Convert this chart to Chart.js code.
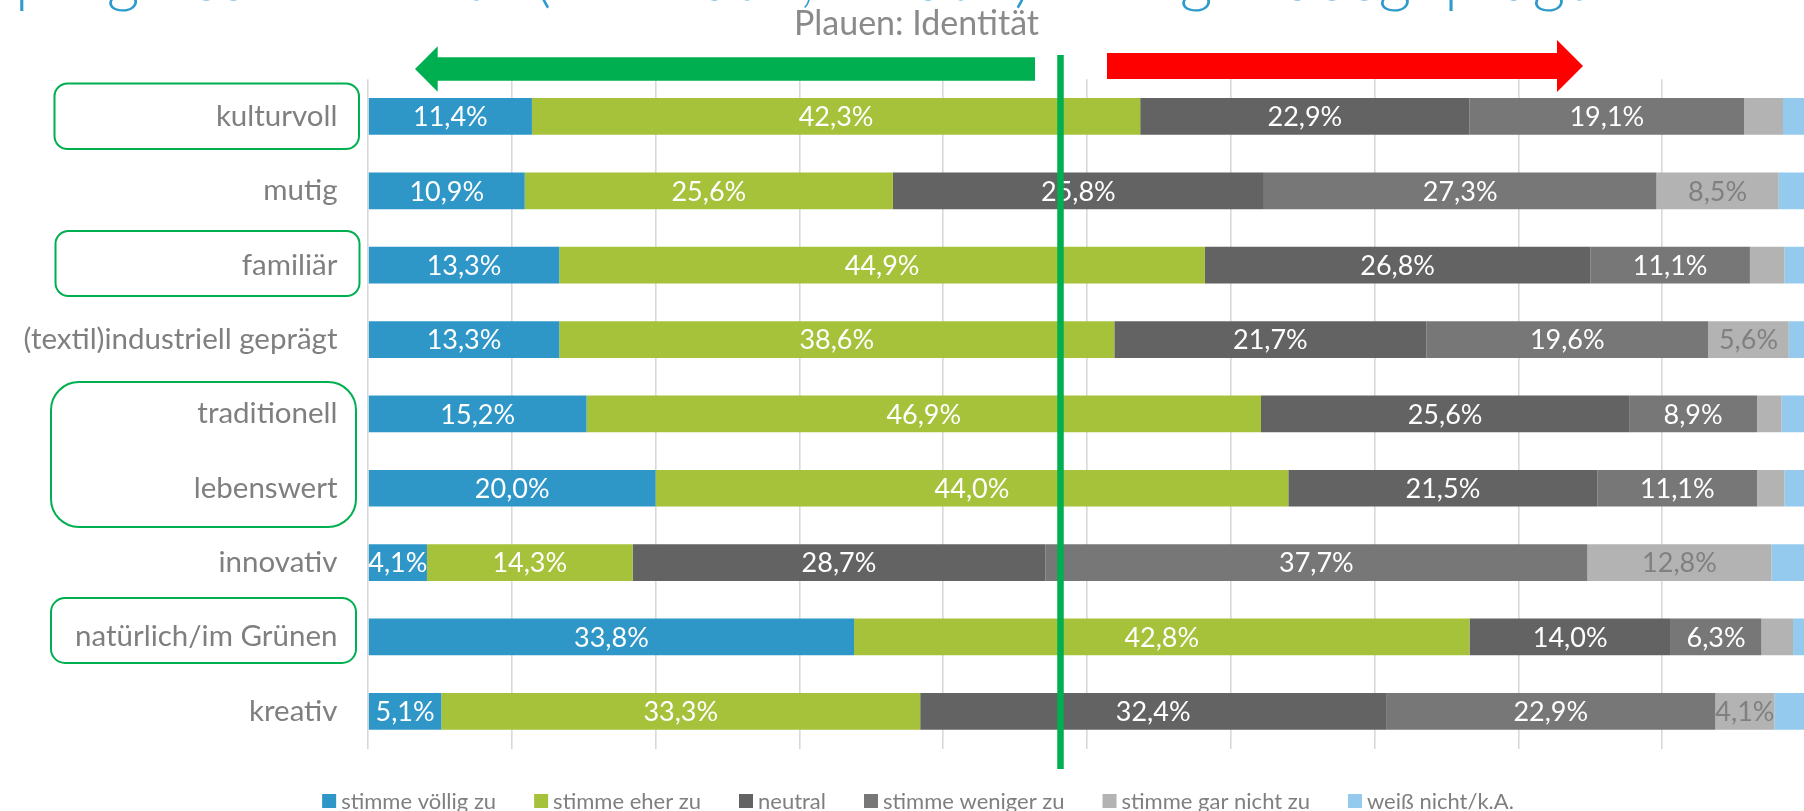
<!DOCTYPE html>
<html>
<head>
<meta charset="utf-8">
<script src="https://cdn.jsdelivr.net/npm/chart.js@4.4.1/dist/chart.umd.min.js"></script>
<style>
  html, body { margin: 0; padding: 0; overflow: hidden; background: #ffffff; }
  #wrap { position: relative; width: 1812px; height: 811px; }
</style>
</head>
<body>
<div id="wrap"><canvas id="chart"></canvas></div>
<script>
// ---------- data ----------
const categories = ['kulturvoll', 'mutig', 'familiär', '(textil)industriell geprägt', 'traditionell', 'lebenswert', 'innovativ', 'natürlich/im Grünen', 'kreativ'];
const seriesNames = ['stimme völlig zu', 'stimme eher zu', 'neutral', 'stimme weniger zu', 'stimme gar nicht zu', 'weiß nicht/k.A.'];
const voelligZu  = [11.4, 10.9, 13.3, 13.3, 15.2, 20.0,  4.1, 33.8,  5.1];
const eherZu     = [42.3, 25.6, 44.9, 38.6, 46.9, 44.0, 14.3, 42.8, 33.3];
const neutral    = [22.9, 25.8, 26.8, 21.7, 25.6, 21.5, 28.7, 14.0, 32.4];
const wenigerZu  = [19.1, 27.3, 11.1, 19.6,  8.9, 11.1, 37.7,  6.3, 22.9];
const garNichtZu = [ 2.7,  8.5,  2.4,  5.6,  1.7,  1.9, 12.8,  2.2,  4.1];
const weissNicht = [ 1.6,  1.9,  1.5,  1.2,  1.7,  1.5,  2.4,  0.9,  2.2];
const xTickValues = [0, 10, 20, 30, 40, 50, 60, 70, 80, 90, 100];
const titleText = 'progressive Werte (innovativ, kreativ) weniger ausgeprägt';
const subtitleText = 'Plauen: Identität';

// ---------- styles ----------
const seriesColors = ['#2f97c7', '#a6c13a', '#636363', '#777777', '#b3b3b3', '#93caed'];
const labelColors = ['#ffffff', '#ffffff', '#ffffff', '#ffffff', '#808080', '#808080'];
const FONT = 'Lato, "Open Sans", sans-serif';

const annot = {
  divider: { x: 1060.5, top: 55, bottom: 769, width: 6.5, color: '#00b050' },
  arrows: [
    { from: 1035, to: 415, y: 69, shaft: 23.4, head: 45.7, headLen: 22.7, color: '#00b050' },
    { from: 1107, to: 1583, y: 66, shaft: 26, head: 52, headLen: 26, color: '#ff0000' }
  ],
  boxes: [
    { x: 54.5, y: 83.5, w: 304.5, h: 65.5, r: 13 },
    { x: 55.5, y: 231, w: 304, h: 65, r: 13 },
    { x: 51, y: 382, w: 305, h: 145, r: 28 },
    { x: 51, y: 598, w: 305, h: 65, r: 14 }
  ],
  boxColor: '#00b050',
  legend: { center: 918, y: 801, box: 14, gap: 5, spacing: 38, font: '22px ' + FONT, color: '#7f7f7f' }
};

const seriesValues = [voelligZu, eherZu, neutral, wenigerZu, garNichtZu, weissNicht];
const datasets = seriesNames.map((name, i) => ({
  label: name,
  data: seriesValues[i],
  backgroundColor: seriesColors[i],
  borderWidth: 0,
  barPercentage: 0.494,
  categoryPercentage: 1.0
}));

const fmt = v => v.toFixed(1).replace('.', ',') + '%';

const labelPlugin = {
  id: 'segLabels',
  afterDatasetsDraw(chart) {
    const ctx = chart.ctx;
    ctx.save();
    ctx.font = '27px ' + FONT;
    ctx.textAlign = 'center';
    ctx.textBaseline = 'middle';
    chart.data.datasets.forEach((ds, di) => {
      if (di >= 5) return;
      const meta = chart.getDatasetMeta(di);
      meta.data.forEach((el, i) => {
        const v = ds.data[i];
        if (v < 4) return;
        const p = el.getCenterPoint();
        ctx.fillStyle = labelColors[di];
        ctx.fillText(fmt(v), p.x, p.y + 1);
      });
    });
    ctx.restore();
  }
};

function drawArrow(ctx, a) {
  const dir = a.to > a.from ? 1 : -1;
  const baseX = a.to - dir * a.headLen;
  ctx.beginPath();
  ctx.moveTo(a.from, a.y - a.shaft / 2);
  ctx.lineTo(baseX, a.y - a.shaft / 2);
  ctx.lineTo(baseX, a.y - a.head / 2);
  ctx.lineTo(a.to, a.y);
  ctx.lineTo(baseX, a.y + a.head / 2);
  ctx.lineTo(baseX, a.y + a.shaft / 2);
  ctx.lineTo(a.from, a.y + a.shaft / 2);
  ctx.closePath();
  ctx.fillStyle = a.color;
  ctx.fill();
}

const decorPlugin = {
  id: 'decor',
  afterDraw(chart) {
    const ctx = chart.ctx;
    ctx.save();
    // divider line
    const d = annot.divider;
    ctx.fillStyle = d.color;
    ctx.fillRect(d.x - d.width / 2, d.top, d.width, d.bottom - d.top);
    // arrows
    annot.arrows.forEach(a => drawArrow(ctx, a));
    // boxes
    ctx.strokeStyle = annot.boxColor;
    ctx.lineWidth = 2;
    annot.boxes.forEach(b => {
      ctx.beginPath();
      ctx.roundRect(b.x, b.y, b.w, b.h, b.r);
      ctx.stroke();
    });
    // title (cut off at top)
    ctx.fillStyle = '#2e9bcc';
    ctx.font = '300 64px ' + FONT;
    ctx.textAlign = 'left';
    ctx.textBaseline = 'alphabetic';
    ctx.fillText(titleText, 15, 0);
    // subtitle
    ctx.fillStyle = '#8a8a8a';
    ctx.font = '34px ' + FONT;
    ctx.textAlign = 'center';
    ctx.fillText(subtitleText, 916.5, 35);
    // legend
    const L = annot.legend;
    ctx.font = L.font;
    ctx.textBaseline = 'middle';
    ctx.textAlign = 'left';
    const items = chart.data.datasets.map(ds => ({ text: ds.label, color: ds.backgroundColor, w: ctx.measureText(ds.label).width }));
    let total = 0;
    items.forEach((it, i) => { total += L.box + L.gap + it.w + (i < items.length - 1 ? L.spacing : 0); });
    let x = L.center - total / 2;
    items.forEach(it => {
      ctx.fillStyle = it.color;
      ctx.fillRect(x, L.y - L.box / 2, L.box, L.box);
      ctx.fillStyle = L.color;
      ctx.fillText(it.text, x + L.box + L.gap, L.y + 1);
      x += L.box + L.gap + it.w + L.spacing;
    });
    ctx.restore();
  }
};

new Chart(document.getElementById('chart'), {
  type: 'bar',
  data: { labels: categories, datasets },
  options: {
    indexAxis: 'y',
    responsive: true,
    maintainAspectRatio: false,
    animation: false,
    devicePixelRatio: 1,
    layout: { padding: { top: 79.3, bottom: 62.5, left: 0, right: 6 } },
    plugins: { legend: { display: false }, title: { display: false }, tooltip: { enabled: false } },
    scales: {
      x: {
        stacked: true,
        min: 0,
        max: 100,
        afterBuildTicks: s => { s.ticks = xTickValues.map(v => ({ value: v })); },
        ticks: { display: false },
        grid: { color: '#d9d9d9', lineWidth: 1.6, drawTicks: false },
        border: { display: false },
        afterFit: s => { s.height = 0; }
      },
      y: {
        stacked: true,
        grid: { display: false, drawTicks: false },
        border: { display: false },
        ticks: { color: '#7f7f7f', font: { family: FONT, size: 29.5 }, padding: 30.5 },
        afterFit: s => { s.width = 368; }
      }
    }
  },
  plugins: [labelPlugin, decorPlugin]
});
</script>
</body>
</html>
